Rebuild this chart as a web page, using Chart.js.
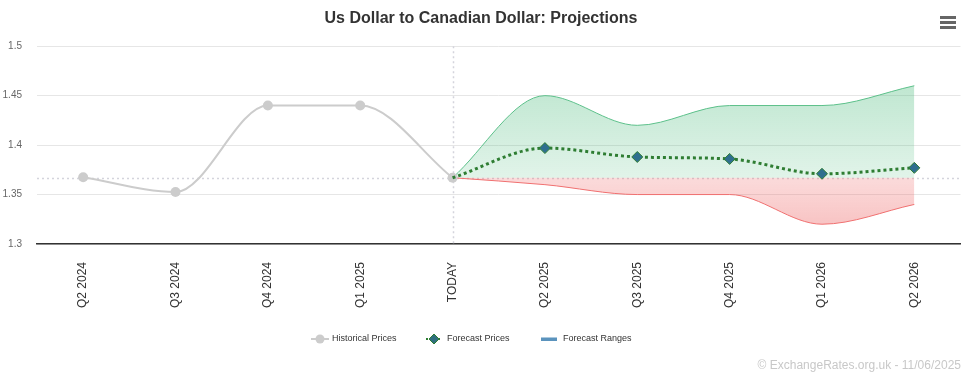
<!DOCTYPE html>
<html>
<head>
<meta charset="utf-8">
<title>Us Dollar to Canadian Dollar: Projections</title>
<script src="https://cdn.jsdelivr.net/npm/chart.js@4/dist/chart.umd.min.js"></script>
<style>
    html, body { margin: 0; padding: 0; background: #fff; }
    #wrap { width: 967px; height: 385px; }
</style>
</head>
<body>
<div id="wrap"><canvas id="fxChart" width="967" height="385"></canvas></div>
<script>
// Chart data
const quarters = ['Q2 2024', 'Q3 2024', 'Q4 2024', 'Q1 2025', 'TODAY', 'Q2 2025', 'Q3 2025', 'Q4 2025', 'Q1 2026', 'Q2 2026'];
const historicalPrices = [1.3675, 1.3525, 1.44, 1.44, 1.367, null, null, null, null, null];
const forecastPrices = [null, null, null, null, 1.367, 1.397, 1.388, 1.386, 1.371, 1.377];
const rangeHigh = [null, null, null, null, 1.367, 1.45, 1.42, 1.44, 1.44, 1.46];
const rangeLow = [null, null, null, null, 1.367, 1.36, 1.35, 1.35, 1.32, 1.34];
const todayRate = 1.367;
const yTicks = [1.3, 1.35, 1.4, 1.45, 1.5];
const creditText = '\u00A9 ExchangeRates.org.uk - 11/06/2025';

const FONT = "'Liberation Sans', Arial, Helvetica, sans-serif";

// vertical gradients for the range areas
function greenFill(ctx) {
    const area = ctx.chart.chartArea;
    if (!area) return 'rgba(60,180,110,0.25)';
    const y = ctx.chart.scales.y;
    const g = ctx.chart.ctx.createLinearGradient(0, y.getPixelForValue(1.46), 0, y.getPixelForValue(todayRate));
    g.addColorStop(0, 'rgba(70,185,120,0.34)');
    g.addColorStop(1, 'rgba(70,185,120,0.16)');
    return g;
}

function redFill(ctx) {
    const area = ctx.chart.chartArea;
    if (!area) return 'rgba(235,90,90,0.25)';
    const y = ctx.chart.scales.y;
    const g = ctx.chart.ctx.createLinearGradient(0, y.getPixelForValue(todayRate), 0, y.getPixelForValue(1.32));
    g.addColorStop(0, 'rgba(240,110,110,0.25)');
    g.addColorStop(1, 'rgba(235,90,90,0.36)');
    return g;
}

// reference lines: today's rate (horizontal) and today (vertical)
const refLines = {
    id: 'refLines',
    beforeDatasetsDraw(chart) {
        const { ctx, chartArea, scales } = chart;
        ctx.save();
        ctx.strokeStyle = '#d4d4dc';
        ctx.lineWidth = 1.5;
        ctx.setLineDash([2, 3]);
        const yy = Math.round(scales.y.getPixelForValue(todayRate)) + 0.5;
        ctx.beginPath();
        ctx.moveTo(chartArea.left, yy);
        ctx.lineTo(chartArea.right, yy);
        ctx.stroke();
        const xx = Math.round(scales.x.getPixelForValue(4)) + 0.5;
        ctx.beginPath();
        ctx.moveTo(xx, chartArea.top);
        ctx.lineTo(xx, chartArea.bottom);
        ctx.stroke();
        ctx.restore();
    }
};

// legend, credits and menu icon
const extras = {
    id: 'extras',
    afterDraw(chart) {
        const ctx = chart.ctx;
        ctx.save();
        const ly = 339;
        ctx.font = '9px ' + FONT;
        ctx.fillStyle = '#333';
        ctx.textBaseline = 'middle';
        ctx.textAlign = 'left';

        // Historical Prices
        ctx.strokeStyle = '#cccccc';
        ctx.lineWidth = 2;
        ctx.setLineDash([]);
        ctx.beginPath(); ctx.moveTo(311, ly); ctx.lineTo(329, ly); ctx.stroke();
        ctx.fillStyle = '#cccccc';
        ctx.beginPath(); ctx.arc(320, ly, 4.5, 0, Math.PI * 2); ctx.fill();
        ctx.fillStyle = '#333';
        ctx.fillText(chart.data.datasets[0].label, 332, ly);

        // Forecast Prices
        ctx.strokeStyle = '#2e7d32';
        ctx.lineWidth = 2;
        ctx.setLineDash([2, 2]);
        ctx.beginPath(); ctx.moveTo(426, ly); ctx.lineTo(442, ly); ctx.stroke();
        ctx.setLineDash([]);
        ctx.fillStyle = '#2f6f7f';
        ctx.strokeStyle = '#2e7d32';
        ctx.lineWidth = 1;
        ctx.beginPath();
        ctx.moveTo(434, ly - 5); ctx.lineTo(439, ly); ctx.lineTo(434, ly + 5); ctx.lineTo(429, ly);
        ctx.closePath(); ctx.fill(); ctx.stroke();
        ctx.fillStyle = '#333';
        ctx.fillText(chart.data.datasets[1].label, 447, ly);

        // Forecast Ranges
        ctx.fillStyle = '#5b93bd';
        ctx.fillRect(541, ly - 1.5, 16, 3.5);
        ctx.fillStyle = '#333';
        ctx.fillText('Forecast Ranges', 563, ly);

        // credits
        ctx.font = '12px ' + FONT;
        ctx.fillStyle = '#c8c8c8';
        ctx.textAlign = 'right';
        ctx.fillText(creditText, 961, 366);

        // menu icon
        ctx.fillStyle = '#666';
        [16, 21, 26].forEach(y => ctx.fillRect(940, y, 16, 3));
        ctx.restore();
    }
};

const chart = new Chart(document.getElementById('fxChart'), {
    type: 'line',
    data: {
        labels: quarters,
        datasets: [{
            label: 'Historical Prices',
            data: historicalPrices,
            borderColor: '#cccccc',
            backgroundColor: '#cccccc',
            borderWidth: 2,
            pointRadius: 5,
            pointHoverRadius: 5,
            pointBorderWidth: 0,
            cubicInterpolationMode: 'monotone',
            order: 1
        }, {
            label: 'Forecast Prices',
            data: forecastPrices,
            borderColor: '#2e7d32',
            borderWidth: 3,
            borderDash: [3, 3],
            pointStyle: 'rectRot',
            pointRadius: [0, 0, 0, 0, 0, 5.5, 5.5, 5.5, 5.5, 5.5],
            pointBackgroundColor: '#2f6f8f',
            pointBorderColor: '#2e7d32',
            pointBorderWidth: 1,
            cubicInterpolationMode: 'monotone',
            order: 0
        }, {
            label: 'Forecast High',
            data: rangeHigh,
            borderColor: '#5cc08a',
            borderWidth: 1,
            pointRadius: 0,
            backgroundColor: greenFill,
            fill: { value: todayRate },
            cubicInterpolationMode: 'monotone',
            order: 2
        }, {
            label: 'Forecast Low',
            data: rangeLow,
            borderColor: '#f07070',
            borderWidth: 1,
            pointRadius: 0,
            backgroundColor: redFill,
            fill: { value: todayRate },
            cubicInterpolationMode: 'monotone',
            order: 3
        }]
    },
    options: {
        responsive: false,
        animation: false,
        spanGaps: false,
        layout: { padding: { left: 0, right: 5, top: 0, bottom: 0 } },
        plugins: {
            legend: { display: false },
            tooltip: { enabled: false },
            title: {
                display: true,
                text: 'Us Dollar to Canadian Dollar: Projections',
                color: '#333',
                font: { family: FONT, size: 16, weight: 'bold', lineHeight: 1.2 },
                padding: { top: 9, bottom: 18 }
            }
        },
        scales: {
            x: {
                offset: true,
                grid: { display: false, drawTicks: false, offset: true },
                border: { display: true, color: '#333', width: 1.5 },
                ticks: {
                    color: '#333',
                    font: { family: FONT, size: 12 },
                    minRotation: 90,
                    maxRotation: 90,
                    padding: 18,
                    autoSkip: false
                },
                afterFit(scale) {
                    scale.height = 385 - 244;
                    scale.paddingLeft = 0;
                    scale.paddingRight = 0;
                }
            },
            y: {
                min: 1.3,
                max: 1.5,
                afterBuildTicks(scale) { scale.ticks = yTicks.map(v => ({ value: v })); },
                grid: { color: '#e6e6e6', drawTicks: false, lineWidth: 1 },
                border: { display: false },
                ticks: {
                    color: '#666',
                    font: { family: FONT, size: 10 },
                    padding: 15,
                    callback: v => String(+v.toFixed(2))
                },
                afterFit(scale) { scale.width = 37; }
            }
        }
    },
    plugins: [refLines, extras]
});
</script>
</body>
</html>
